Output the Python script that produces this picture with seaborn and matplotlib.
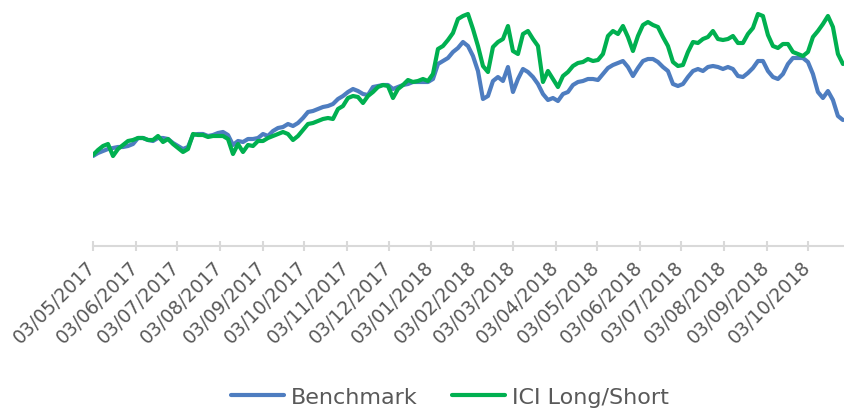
import pandas as pd
import seaborn as sns
import matplotlib.pyplot as plt
import matplotlib.dates as mdates
from matplotlib.transforms import ScaledTranslation

benchmark = [
    100, 100.75, 101.25, 101.75, 102, 102.25, 102.25, 102.5, 103, 104.5,
    104.5, 104, 103.75, 104.5, 104.5, 104.25, 103.25, 102.5, 101.75, 102.25,
    105.25, 105.5, 105.5, 105, 105.25, 105.75, 106, 105.25, 102.75, 103.75,
    103.5, 104.25, 104.25, 104.5, 105.5, 105, 106.25, 107, 107.25, 108,
    107.5, 108.25, 109.5, 111, 111.25, 111.75, 112.25, 112.5, 113, 114.25,
    115, 116, 116.75, 116.25, 115.5, 115.25, 117.25, 117.5, 117.75, 117.75,
    116.75, 117.25, 117.75, 118, 118.5, 118.5, 118.5, 118.5, 119.25, 123,
    123.75, 124.5, 126, 127, 128.5, 127.5, 125, 121.25, 114.25, 115,
    118.75, 119.75, 118.75, 122.25, 116, 119.25, 121.75, 121, 119.75, 118,
    115.5, 114, 114.5, 113.75, 115.5, 116, 117.75, 118.5, 118.75, 119.25,
    119.25, 119, 120.5, 122, 122.75, 123.25, 123.75, 122.25, 120, 122,
    123.75, 124.25, 124.25, 123.5, 122.25, 121.25, 118, 117.5, 118, 119.75,
    121.25, 121.75, 121.25, 122.25, 122.5, 122.25, 121.75, 122.25, 121.75, 120,
    119.75, 120.75, 122, 123.75, 123.75, 121.25, 119.75, 119.25, 120.5, 123,
    124.5, 124.5, 124.5, 123.5, 120.5, 116, 114.5, 116.25, 114, 110,
    109,
]

ici_long_short = [
    100.25, 101.5, 102.5, 103, 100, 101.75, 102.75, 103.75, 104, 104.5,
    104.5, 104, 104, 105, 103.5, 104.25, 103, 102, 101, 101.75,
    105.5, 105.25, 105.25, 104.75, 105, 105, 105, 104.25, 100.5, 103,
    101, 102.75, 102.5, 103.75, 103.75, 104.5, 105, 105.5, 106, 105.5,
    104, 105, 106.5, 108, 108.25, 108.75, 109.25, 109.5, 109.25, 111.75,
    112.5, 114.5, 115, 114.75, 113.25, 115, 116, 117.25, 117.75, 117.5,
    114.5, 116.75, 117.75, 119, 118.5, 118.75, 119.25, 118.75, 120.5, 126.75,
    127.5, 129, 130.75, 134.25, 135, 135.5, 131.75, 127.5, 122.5, 121,
    127.25, 128.5, 129.25, 132.5, 126.25, 125.5, 130.5, 131.25, 129.25, 127.5,
    118.5, 121.25, 119.25, 117.25, 120, 121, 122.5, 123.25, 123.5, 124.25,
    123.75, 124, 125.5, 130, 131.25, 130.5, 132.5, 129.75, 126.25, 130,
    132.75, 133.5, 132.75, 132.25, 129.75, 127.5, 123.5, 122.5, 122.75, 126,
    128.5, 128.25, 129.25, 129.75, 131.25, 129.25, 129, 129.25, 130, 128.25,
    128.25, 130.5, 132, 135.5, 135, 130.25, 127.5, 127, 128, 128,
    126, 125.5, 125, 126, 129.75, 131.25, 133, 135, 132.25, 125.5,
    123,
]

series_names = ['Benchmark', 'ICI Long/Short']
colors = {'Benchmark': '#4E7DC0', 'ICI Long/Short': '#00B050'}

dates = pd.date_range('2017-05-03', '2018-10-28', periods=len(benchmark))
df = pd.DataFrame({'Date': dates, series_names[0]: benchmark, series_names[1]: ici_long_short})
df = df.melt('Date', var_name='Series', value_name='Value')

sns.set_style('white')
plt.rcParams['font.family'] = ['DejaVu Sans']

fig = plt.figure(figsize=(8.45, 4.10), dpi=100)
ax = fig.add_axes([93 / 845, 163 / 410, 1 - 93 / 845, 247 / 410])
sns.lineplot(data=df, x='Date', y='Value', hue='Series', hue_order=series_names,
             palette=colors, linewidth=3, ax=ax)

ax.set_xlim(pd.Timestamp('2017-05-03'), pd.Timestamp('2018-10-29 12:00'))
ax.set_ylim(77.5, 139.25)
ax.set_xlabel('')
ax.set_ylabel('')
ax.set_yticks([])

for s in ['top', 'right', 'left']:
    ax.spines[s].set_visible(False)
ax.spines['bottom'].set_color('#D9D9D9')
ax.spines['bottom'].set_linewidth(1.5)

ax.xaxis.set_major_locator(mdates.MonthLocator(bymonthday=3))
ax.xaxis.set_major_formatter(mdates.DateFormatter('%d/%m/%Y'))
ax.tick_params(axis='x', bottom=True, direction='inout', length=7.5, width=1.5,
               color='#D9D9D9', labelsize=13.5, labelcolor='#595959', pad=4)
shift = ScaledTranslation(-7 / 100, 0, fig.dpi_scale_trans)
for lbl in ax.get_xticklabels():
    lbl.set_rotation(45)
    lbl.set_ha('right')
    lbl.set_rotation_mode('anchor')
    lbl.set_transform(lbl.get_transform() + shift)

handles, labels = ax.get_legend_handles_labels()
ax.get_legend().remove()
leg = fig.legend(handles, labels, loc='center', bbox_to_anchor=(450 / 845, 1 - 398 / 410),
                 ncol=2, frameon=False, fontsize=16, handlelength=2.4,
                 handletextpad=0.3, columnspacing=1.55)
for line in leg.get_lines():
    line.set_linewidth(3)
for t in leg.get_texts():
    t.set_color('#595959')

fig.savefig('out.png', dpi=100)
